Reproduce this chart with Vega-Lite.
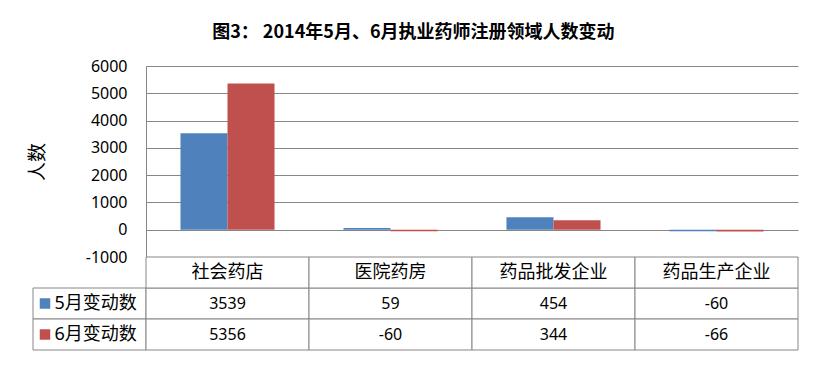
{
  "$schema": "https://vega.github.io/schema/vega-lite/v6.json",
  "background": "white",
  "padding": {"left": 28, "top": 24, "right": 27, "bottom": 9},
  "title": {
    "text": "图3： 2014年5月、6月执业药师注册领域人数变动",
    "font": "Noto Sans CJK SC",
    "fontSize": 18,
    "fontWeight": "bold",
    "color": "black",
    "anchor": "middle",
    "offset": 16
  },
  "datasets": {
    "d": [
      {"cat": "社会药店", "series": "5月变动数", "value": 3539},
      {"cat": "医院药房", "series": "5月变动数", "value": 59},
      {"cat": "药品批发企业", "series": "5月变动数", "value": 454},
      {"cat": "药品生产企业", "series": "5月变动数", "value": -60},
      {"cat": "社会药店", "series": "6月变动数", "value": 5356},
      {"cat": "医院药房", "series": "6月变动数", "value": -60},
      {"cat": "药品批发企业", "series": "6月变动数", "value": 344},
      {"cat": "药品生产企业", "series": "6月变动数", "value": -66}
    ]
  },
  "columns": 2,
  "spacing": 0,
  "bounds": "flush",
  "concat": [
    {
      "width": 113,
      "height": 191,
      "data": {"values": [{}]},
      "mark": {"type": "text"},
      "encoding": {"text": {"value": ""}}
    },
    {
      "width": 652,
      "height": 191,
      "data": {"name": "d"},
      "mark": {"type": "bar"},
      "encoding": {
        "x": {
          "field": "cat", "type": "nominal",
          "sort": ["社会药店", "医院药房", "药品批发企业", "药品生产企业"],
          "scale": {"paddingInner": 0.423, "paddingOuter": 0.2115},
          "axis": null
        },
        "xOffset": {
          "field": "series", "type": "nominal",
          "sort": ["5月变动数", "6月变动数"],
          "scale": {"paddingInner": 0, "paddingOuter": 0}
        },
        "y": {
          "field": "value", "type": "quantitative",
          "scale": {"domain": [-1000, 6000], "nice": false, "zero": false},
          "axis": {
            "values": [-1000, 0, 1000, 2000, 3000, 4000, 5000, 6000],
            "labelExpr": "'' + datum.value",
            "grid": true,
            "gridColor": "#868686",
            "gridOpacity": 1,
            "domainColor": "#868686",
            "ticks": false,
            "tickSize": 0,
            "labelFont": "Noto Sans",
            "labelFontSize": 16,
            "labelColor": "black",
            "labelPadding": 19,
            "title": "人数",
            "titleFont": "Noto Sans CJK SC",
            "titleFontSize": 19,
            "titleFontWeight": "normal",
            "titleColor": "black",
            "titlePadding": 38
          }
        },
        "color": {
          "field": "series", "type": "nominal",
          "scale": {"domain": ["5月变动数", "6月变动数"], "range": ["#4F81BD", "#C0504D"]},
          "legend": null
        }
      }
    },
    {
      "width": 113,
      "height": 93,
      "data": {"name": "d"},
      "transform": [{"aggregate": [{"op": "count", "as": "n"}], "groupby": ["series"]}],
      "encoding": {
        "y": {
          "field": "series", "type": "nominal",
          "scale": {"domain": ["header", "5月变动数", "6月变动数"], "paddingInner": 0, "paddingOuter": 0},
          "axis": null
        }
      },
      "layer": [
        {"mark": {"type": "rect", "fill": "white", "stroke": "#868686", "strokeWidth": 1}},
        {
          "mark": {"type": "point", "shape": "square", "filled": true, "size": 110, "opacity": 1, "xOffset": -44.5},
          "encoding": {
            "color": {
              "field": "series", "type": "nominal",
              "scale": {"domain": ["5月变动数", "6月变动数"], "range": ["#4F81BD", "#C0504D"]},
              "legend": null
            }
          }
        },
        {
          "mark": {"type": "text", "align": "left", "dx": -35, "font": "Noto Sans, Noto Sans CJK SC", "fontSize": 18, "color": "black"},
          "encoding": {"text": {"field": "series", "type": "nominal"}}
        }
      ]
    },
    {
      "width": 652,
      "height": 93,
      "data": {"name": "d"},
      "encoding": {
        "x": {
          "field": "cat", "type": "nominal",
          "sort": ["社会药店", "医院药房", "药品批发企业", "药品生产企业"],
          "scale": {"paddingInner": 0, "paddingOuter": 0},
          "axis": null
        }
      },
      "layer": [
        {
          "mark": {"type": "rect", "fill": "white", "stroke": "#868686", "strokeWidth": 1},
          "encoding": {
            "y": {
              "field": "series", "type": "nominal",
              "scale": {"domain": ["header", "5月变动数", "6月变动数"], "paddingInner": 0, "paddingOuter": 0},
              "axis": null
            }
          }
        },
        {
          "transform": [{"aggregate": [{"op": "count", "as": "n"}], "groupby": ["cat"]}],
          "mark": {"type": "rect", "fill": "white", "stroke": "#868686", "strokeWidth": 1},
          "encoding": {"y": {"datum": "header", "type": "nominal"}}
        },
        {
          "mark": {"type": "text", "font": "Noto Sans", "fontSize": 16, "color": "black"},
          "encoding": {
            "y": {"field": "series", "type": "nominal"},
            "text": {"field": "value", "type": "nominal"}
          }
        },
        {
          "transform": [{"aggregate": [{"op": "count", "as": "n"}], "groupby": ["cat"]}],
          "mark": {"type": "text", "font": "Noto Sans CJK SC", "fontSize": 18, "color": "black"},
          "encoding": {
            "y": {"datum": "header", "type": "nominal"},
            "text": {"field": "cat", "type": "nominal"}
          }
        }
      ]
    }
  ],
  "config": {
    "view": {"stroke": null}
  }
}
